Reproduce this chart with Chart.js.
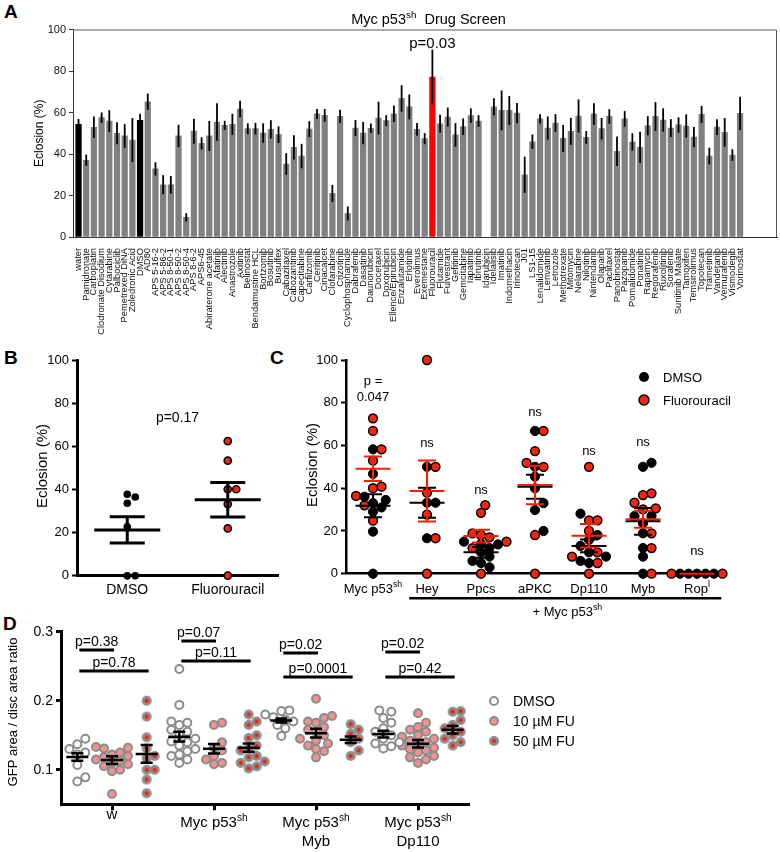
<!DOCTYPE html>
<html><head><meta charset="utf-8">
<script src="https://cdn.jsdelivr.net/npm/chart.js@4.4.1/dist/chart.umd.min.js"></script>
<style>
body{margin:0;background:#fff;width:780px;height:852px;position:relative;overflow:hidden;font-family:"Liberation Sans",Arial,sans-serif}
canvas{position:absolute}
.lt{position:absolute;font-weight:bold;font-size:19px;line-height:1;font-family:"Liberation Sans",Arial,sans-serif;color:#000}
</style></head><body>
<div class="lt" style="left:4px;top:2px">A</div>
<div class="lt" style="left:4px;top:348px">B</div>
<div class="lt" style="left:270px;top:348px">C</div>
<div class="lt" style="left:3px;top:614px">D</div>
<canvas id="cA" width="780" height="355" style="left:0;top:0"></canvas>
<canvas id="cB" width="290" height="255" style="left:0;top:345px"></canvas>
<canvas id="cC" width="490" height="275" style="left:290px;top:345px"></canvas>
<canvas id="cD" width="780" height="237" style="left:0;top:615px"></canvas>
<script>
// ================= DATA =================
// Panel A
const titleA = 'Myc p53{sh}  Drug Screen';
const drugs = ['water','Pamidronate','Carboplatin','Clodronate Disodium','Cytarabine','Palbociclib','Pemetrexed DiNA','Zoledronic Acid','DMSO','AD80','APS 5-16-2','APS 5-86-2','APS 8-50-1','APS 8-50-2','APS 8-50-4','APS 8-6-2','APS6-45','Abiraterone acetate','Afatinib','Alectinib','Anastrozole','Axitinib','Belinostat','Bendamustine HCL','Bortzomib','Bosutinib','Busulfex','Cabazitaxel','Cabozantinib','Capecitabine','Carfilzomib','Ceritinib','Cinacalcet','Clofarabine','Crizotinib','Cyclophosphamide','Dabrafenib','Dasatinib','Daunorubicin','Docetaxel','Doxorubicin','Ellence/Epirubicin','Enzalutamide','Erlotinib','Everolimus','Exemestane','Fluorouracil','Flutamide','Fulvestrant','Gefitinib','Gemcitabine','Iapatinib','Ibrutinib','Idarubicin','Idelalisib','Imatinib','Indomethacin','Irinotecan','J01','LS1-15','Lenalidomide','Lenvatinib','Letrozole','Methotrexate','Mitomycin','Nelarabine','Nilotinib','Nintendanib','Olaparib','Paclitaxel','Panobinostat','Pazopanib','Pomalidomide','Ponatinib','Rapamycin','Regorafenib','Ruxolitinib','Sorafenib','Sunitinib Malate','Tamoxifen','Temsirolimus','Topotecan','Trametinib','Vandetanib','Vemurafenib','Vismodegib','Vorinostat'];
const eclosion = [54.3,37,52.9,57.5,55.9,50,48.7,46.7,56.2,65.2,32.8,25.2,25.2,48.7,9.5,51,45.1,48.7,55.4,53.8,54.3,61.7,52.2,52.2,50.1,51.9,49.3,35.2,43.2,39,52,59.3,58.6,21,58.1,11.3,52.5,50.1,52.4,57.3,56.1,59.4,66.8,62.7,51.9,47.4,77.1,54.6,57.8,49.2,53.2,58.5,55.9,null,62.7,61,61,59.7,30,45.9,56.9,52.5,54.9,47.5,50.9,58.3,48,59.3,52.2,58.1,41.3,56.9,45.8,43.2,53.6,58.1,56.4,52.5,54,53.5,48.2,59.1,39,53,50.4,39.5,59.6];
const semA = [2.6,2.7,5.2,2.5,5.2,5.3,5.7,10.6,3.2,3.9,3.2,4.6,4.2,5.4,2,6,2.9,7.2,9,2.2,5.1,4,2.6,2.8,4.7,4.4,4,5.2,5.8,5.9,3.8,2.4,3.1,4.1,3.2,3.4,3.9,5.4,2.3,7.9,2.6,4,6.4,6,3.1,2.7,13.2,4.3,4.6,5.7,4,3.5,2.8,0,4.2,9.6,7,4.9,8.7,3.5,2.2,5.6,4.3,6.5,6.5,8,3.1,5.2,5.2,3.5,7.1,3.8,4.2,7.5,4.6,6.9,5.6,4.3,3.7,5.6,4.8,4.1,4,3.8,6.9,2.8,8];
const controlsA = ['water','DMSO'];
const highlightA = 'Fluorouracil';
const pA = 'p=0.03';
const yTicksA = [0,20,40,60,80,100];

// Panel B
const bGroups = ['DMSO','Fluorouracil'];
const bDmso = [37.9,36.6,33.7,22.8,0,0];
const bFu = [62.6,53.5,40.2,40.2,33.3,22,0];
const bMean = [21.3,35.3];
const bSem = [6.1,8.0];
const bP = 'p=0.17';
const bPY = 71.5;

// Panel C
const cGroups = ['Myc p53{sh}','Hey','Ppcs','aPKC','Dp110','Myb','Rop{l}'];
const cDmso = [[58.2,46.7,36,34.5,33,31,29,19.7,0],[50,33.2,33.2,16.6],[15,14,13.7,12,10,8,6,5,3],[66.8,50,45.4,40,33,29.8,20],[28.1,18.1,15.8,13,10,8,6,5],[51.9,50,27,27,23.6,18.9,12,8,0],[0,0,0,0,0]];
const cFu = [[72.7,66.8,58.2,52.9,40.7,40,36.4,32,24.8],[100,50,37.9,27.6,16.6,0],[32.1,28.5,18.9,18.1,17,15,12,0],[66.8,57.4,51.9,50,18.1,0],[50,25,25,20,10,8,5,0],[37.6,36.8,33.2,30.6,30.1,18.9,12,0],[0,0,0]];
const cMeanDmso = [31.8,33.2,10,40.7,13,24.5,0];
const cSemDmso = [5.4,7,2.5,5.6,3,6.3,0];
const cMeanFu = [49.1,38.7,17.6,41.5,17.8,25.5,0];
const cSemFu = [5.7,14.3,3,9,5.5,4,0];
const cSig = [['p =','0.047'],['ns'],['ns'],['ns'],['ns'],['ns'],['ns']];
const cSigY = [88.3,59.3,37.3,73.8,55.5,59.8,8.7];
const cBracketLabel = '+ Myc p53{sh}';
const cSeries = ['DMSO','Fluorouracil'];

// Panel D
const dGroups = [['w'],['Myc p53{sh}'],['Myc p53{sh}','Myb'],['Myc p53{sh}','Dp110']];
const dSeries = ['DMSO','10 \u00b5M FU','50 \u00b5M FU'];
const dDmso = [[0.145,0.137,0.13,0.125,0.122,0.107,0.089,0.083],
  [0.246,0.194,0.17,0.168,0.165,0.158,0.155,0.15,0.145,0.141,0.14,0.135,0.13,0.127,0.122,0.12,0.115,0.11],
  [0.186,0.185,0.18,0.176,0.172,0.17,0.165,0.16,0.149],
  [0.186,0.184,0.175,0.168,0.16,0.155,0.15,0.145,0.14,0.138,0.134,0.131]];
const dFu10 = [[0.133,0.132,0.131,0.125,0.122,0.12,0.118,0.115,0.113,0.11,0.108,0.105,0.1,0.098,0.065],
  [0.168,0.165,0.14,0.132,0.128,0.12,0.115,0.11,0.108],
  [0.203,0.178,0.175,0.17,0.168,0.162,0.158,0.155,0.15,0.145,0.142,0.138,0.135,0.13,0.127,0.118],
  [0.182,0.168,0.162,0.158,0.155,0.15,0.148,0.145,0.142,0.14,0.138,0.135,0.132,0.13,0.128,0.125,0.12,0.118,0.115,0.11]];
const dFu50 = [[0.2,0.177,0.147,0.131,0.12,0.117,0.1,0.1,0.086,0.066],
  [0.18,0.165,0.17,0.15,0.146,0.135,0.131,0.128,0.12,0.118,0.112,0.11,0.105,0.102],
  [0.166,0.158,0.152,0.145,0.14,0.128,0.12],
  [0.185,0.184,0.172,0.165,0.16,0.155,0.15,0.145,0.14,0.135]];
const dMean = [[0.1185,0.114,0.123],[0.148,0.1305,0.132],[0.1714,0.153,0.1435],[0.1517,0.1377,0.158]];
const dSem = [[0.0055,0.0055,0.0128],[0.0072,0.007,0.006],[0.003,0.0063,0.0048],[0.0048,0.0053,0.0053]];
const dPGroup = [0,0,1,1,2,2,3,3];
const dPTo = [1,2,1,2,1,2,1,2];
const dPY = [0.2736,0.2432,0.2866,0.2577,0.2692,0.2345,0.2707,0.2345];
const dPText = ['p=0.38','p=0.78','p=0.07','p=0.11','p=0.02','p=0.0001','p=0.02','p=0.42'];
const dYTicks = [0.1,0.2,0.3];

// ================= HELPERS =================
const SANS = '"Liberation Sans", Arial, Helvetica, sans-serif';
const RED = '#f4260f';
Chart.defaults.font.family = SANS;
Chart.defaults.color = '#000';

function segs(str){const out=[];const re=/\{([^}]*)\}/g;let last=0,m;while((m=re.exec(str))){if(m.index>last)out.push({t:str.slice(last,m.index),sup:false});out.push({t:m[1],sup:true});last=re.lastIndex;}if(last<str.length)out.push({t:str.slice(last),sup:false});return out;}
function richWidth(ctx,str,size,fam){let w=0;for(const s of segs(str)){ctx.font=(s.sup?size*0.68:size)+'px '+fam;w+=ctx.measureText(s.t).width;}return w;}
function drawRich(ctx,str,x,y,size,fam,align,color){const w=richWidth(ctx,str,size,fam);let cx=align==='center'?x-w/2:align==='right'?x-w:x;ctx.fillStyle=color||'#000';ctx.textAlign='left';ctx.textBaseline='alphabetic';for(const s of segs(str)){const fs=s.sup?size*0.68:size;ctx.font=fs+'px '+fam;ctx.fillText(s.t,cx,s.sup?y-size*0.42:y);cx+=ctx.measureText(s.t).width;}}
function hasSup(str){return /\{/.test(str);}
function vText(ctx,text,x,y,size,fam){ctx.save();ctx.translate(x,y);ctx.rotate(-Math.PI/2);ctx.font=size+'px '+fam;ctx.fillStyle='#000';ctx.textAlign='center';ctx.textBaseline='middle';ctx.fillText(text,0,0);ctx.restore();}
// beeswarm offsets (in category units) so that dots do not overlap
function swarm(vals,pxPerY,pxPerX,minDist){const idx=vals.map((v,i)=>i).sort((a,b)=>vals[a]-vals[b]);const placed=[];const off=new Array(vals.length).fill(0);for(const i of idx){const y=vals[i]*pxPerY;let best=0;for(let k=0;k<60;k++){const c=k===0?0:(k%2?1:-1)*Math.ceil(k/2)*minDist*0.5;if(placed.every(p=>Math.hypot(p.x-c,p.y-y)>=minDist)){best=c;break;}}placed.push({x:best,y});off[i]=best/pxPerX;}return off;}
function meanSem(ctx,xs,ys,xp,mean,sem,half,cap,color,lw){const ym=ys.getPixelForValue(mean),y1=ys.getPixelForValue(mean+sem),y2=ys.getPixelForValue(mean-sem);ctx.strokeStyle=color;ctx.lineWidth=lw;ctx.lineCap='butt';ctx.beginPath();ctx.moveTo(xp-half,ym);ctx.lineTo(xp+half,ym);if(sem>0){ctx.moveTo(xp,y1);ctx.lineTo(xp,y2);ctx.moveTo(xp-cap,y1);ctx.lineTo(xp+cap,y1);ctx.moveTo(xp-cap,y2);ctx.lineTo(xp+cap,y2);}ctx.stroke();}
function fixSize(px,prop){return s=>{s[prop]=px;};}

// ================= PANEL A =================
(function(){
  const cv=document.getElementById('cA');
  const H=cv.height, LEFT=73, RIGHT=777, TOP=29.5, BOTTOM=237;
  const colors=drugs.map(d=>controlsA.includes(d)?'#000':(d===highlightA?'#ff0000':'#808080'));
  const plug={id:'pa',afterDatasetsDraw(chart){
    const {ctx,chartArea:ca,scales:{x,y}}=chart;ctx.save();
    ctx.strokeStyle='#555';ctx.lineWidth=1;ctx.beginPath();ctx.moveTo(ca.left,ca.top+0.5);ctx.lineTo(ca.right-0.5,ca.top+0.5);ctx.lineTo(ca.right-0.5,ca.bottom);ctx.stroke();
    ctx.strokeStyle='#000';ctx.lineWidth=1.8;
    eclosion.forEach((v,i)=>{if(v==null)return;const px=x.getPixelForValue(i);ctx.beginPath();ctx.moveTo(px,y.getPixelForValue(v+semA[i]));ctx.lineTo(px,y.getPixelForValue(Math.max(0,v-semA[i])));ctx.stroke();});
    const k=drugs.indexOf(highlightA);
    ctx.fillStyle='#000';ctx.font='15px '+SANS;ctx.textAlign='center';ctx.textBaseline='alphabetic';
    ctx.fillText(pA,x.getPixelForValue(k),y.getPixelForValue(eclosion[k]+semA[k])-2);
    drawRich(ctx,titleA,ca.left+(ca.right-ca.left)*0.505,24,14.5,SANS,'center');
    vText(ctx,'Eclosion (%)',40,(ca.top+ca.bottom)/2,12,SANS);
    ctx.restore();}};
  new Chart(cv,{type:'bar',
    data:{datasets:[{data:eclosion.map((v,i)=>({x:i,y:v})),backgroundColor:colors,barThickness:5.6,borderWidth:0}]},
    options:{responsive:false,animation:false,events:[],
      layout:{padding:{left:0,right:780-RIGHT,top:TOP,bottom:0}},
      plugins:{legend:{display:false},tooltip:{enabled:false}},
      scales:{
        x:{type:'linear',offset:false,min:-0.72,max:90.8,grid:{display:false},border:{display:true,color:'#333',width:1},
          afterBuildTicks:s=>{s.ticks=drugs.map((_,i)=>({value:i}));},
          ticks:{autoSkip:false,minRotation:90,maxRotation:90,font:{size:9.3,family:SANS},color:'#111',padding:3,callback:v=>drugs[v]},
          afterFit:fixSize(H-BOTTOM,'height')},
        y:{min:0,max:100,afterBuildTicks:s=>{s.ticks=yTicksA.map(v=>({value:v}));},
          ticks:{font:{size:11,family:SANS},color:'#111',padding:3},
          grid:{drawOnChartArea:false,drawTicks:true,tickLength:4,color:'#333'},border:{color:'#333',width:1},
          afterFit:fixSize(LEFT,'width')}
      }},plugins:[plug]});
})();

// ================= PANEL B =================
(function(){
  const cv=document.getElementById('cB');
  const offD=swarm(bDmso,2.15,100.5,8), offF=swarm(bFu,2.15,100.5,8.5);
  const plug={id:'pb',afterDatasetsDraw(chart){
    const {ctx,chartArea:ca,scales:{x,y}}=chart;ctx.save();
    bMean.forEach((m,i)=>meanSem(ctx,x,y,x.getPixelForValue(i),m,bSem[i],33,17.5,'#000',3));
    ctx.fillStyle='#000';ctx.font='14px '+SANS;ctx.textAlign='center';ctx.textBaseline='alphabetic';
    ctx.fillText(bP,x.getPixelForValue(0.5),y.getPixelForValue(bPY));
    vText(ctx,'Eclosion (%)',43,121,15,SANS);
    ctx.restore();}};
  new Chart(cv,{type:'scatter',
    data:{datasets:[
      {data:bDmso.map((v,i)=>({x:0+offD[i],y:v})),backgroundColor:'#000',borderColor:'#000',pointRadius:3.8,borderWidth:0},
      {data:bFu.map((v,i)=>({x:1+offF[i],y:v})),backgroundColor:RED,borderColor:'#000',pointRadius:3.6,borderWidth:1.5}]},
    options:{responsive:false,animation:false,events:[],clip:false,
      layout:{padding:{left:0,right:12,top:15.7,bottom:0}},
      plugins:{legend:{display:false},tooltip:{enabled:false}},
      scales:{
        x:{type:'linear',min:-0.5,max:1.5,afterBuildTicks:s=>{s.ticks=[{value:0},{value:1}];},
          ticks:{font:{size:14},color:'#000',padding:2,callback:v=>bGroups[v]},
          grid:{drawOnChartArea:false,drawTicks:true,tickLength:4,tickWidth:2,color:'#000'},border:{color:'#000',width:3},
          afterFit:fixSize(255-230.7,'height')},
        y:{min:0,max:100,afterBuildTicks:s=>{s.ticks=[0,20,40,60,80,100].map(v=>({value:v}));},
          ticks:{font:{size:13},color:'#000',padding:3},
          grid:{drawOnChartArea:false,drawTicks:true,tickLength:5,tickWidth:2,color:'#000'},border:{color:'#000',width:3},
          afterFit:fixSize(77,'width')}
      }},plugins:[plug]});
})();

// ================= PANEL C =================
(function(){
  const cv=document.getElementById('cC');
  const offD=[],offF=[];
  cGroups.forEach((g,i)=>{const all=cDmso[i].concat(cFu[i]);const o=swarm(all,2.137,54,8.5);offD.push(o.slice(0,cDmso[i].length));offF.push(o.slice(cDmso[i].length));});
  const ptsD=[],ptsF=[];
  cGroups.forEach((g,i)=>{cDmso[i].forEach((v,j)=>ptsD.push({x:i+offD[i][j],y:v}));cFu[i].forEach((v,j)=>ptsF.push({x:i+offF[i][j],y:v}));});
  const plug={id:'pc',afterDatasetsDraw(chart){
    const {ctx,chartArea:ca,scales:{x,y}}=chart;ctx.save();
    cGroups.forEach((g,i)=>{const xp=x.getPixelForValue(i);
      meanSem(ctx,x,y,xp,cMeanDmso[i],cSemDmso[i],17.5,9,'#000',2);
      meanSem(ctx,x,y,xp,cMeanFu[i],cSemFu[i],17.5,9,'#ff1a00',2);});
    cGroups.forEach((g,i)=>drawRich(ctx,g,x.getPixelForValue(i),ca.bottom+19,13,SANS,'center'));
    ctx.strokeStyle='#000';ctx.lineWidth=2.5;ctx.beginPath();ctx.moveTo(x.getPixelForValue(0.67),ca.bottom+24.5);ctx.lineTo(x.getPixelForValue(6.45),ca.bottom+24.5);ctx.stroke();
    drawRich(ctx,cBracketLabel,x.getPixelForValue(3.6),ca.bottom+42,13,SANS,'center');
    ctx.fillStyle='#000';ctx.font='13px '+SANS;ctx.textAlign='center';ctx.textBaseline='alphabetic';
    cSig.forEach((lines,i)=>{lines.forEach((t,j)=>ctx.fillText(t,x.getPixelForValue(i),y.getPixelForValue(cSigY[i])+j*15.5));});
    const lx=ca.left+298, ly=[ca.top+17,ca.top+40];
    [['#000',0],[RED,1.5]].forEach((st,k)=>{ctx.beginPath();ctx.arc(lx,ly[k],5,0,2*Math.PI);ctx.fillStyle=st[0];ctx.fill();if(st[1]){ctx.lineWidth=1.5;ctx.strokeStyle='#000';ctx.stroke();}
      ctx.fillStyle='#000';ctx.font='13px '+SANS;ctx.textAlign='left';ctx.textBaseline='middle';ctx.fillText(cSeries[k],lx+19,ly[k]+1);});
    vText(ctx,'Eclosion (%)',23,120,15,SANS);
    ctx.restore();}};
  new Chart(cv,{type:'scatter',
    data:{datasets:[
      {data:ptsD,backgroundColor:'#000',borderColor:'#000',pointRadius:4.6,borderWidth:1},
      {data:ptsF,backgroundColor:RED,borderColor:'#000',pointRadius:4.4,borderWidth:1.5}]},
    options:{responsive:false,animation:false,events:[],clip:false,
      layout:{padding:{left:0,right:56,top:15,bottom:0}},
      plugins:{legend:{display:false},tooltip:{enabled:false}},
      scales:{
        x:{type:'linear',min:-0.5,max:6.5,afterBuildTicks:s=>{s.ticks=cGroups.map((_,i)=>({value:i}));},
          ticks:{callback:()=>'' ,padding:0},
          grid:{drawOnChartArea:false,drawTicks:true,tickLength:5,tickWidth:2,color:'#000'},border:{color:'#000',width:2.5},
          afterFit:fixSize(275-228.7,'height')},
        y:{min:0,max:100,afterBuildTicks:s=>{s.ticks=[0,20,40,60,80,100].map(v=>({value:v}));},
          ticks:{font:{size:13},color:'#000',padding:3},
          grid:{drawOnChartArea:false,drawTicks:true,tickLength:5,tickWidth:2,color:'#000'},border:{color:'#000',width:2.5},
          afterFit:fixSize(56,'width')}
      }},plugins:[plug]});
})();

// ================= PANEL D =================
(function(){
  const cv=document.getElementById('cD');
  const SUB=[-0.34,0,0.34];
  const dot50=(()=>{const c=document.createElement('canvas');c.width=c.height=12;const g=c.getContext('2d');g.fillStyle='#8c8c8c';g.beginPath();g.arc(6,6,5,0,2*Math.PI);g.fill();g.fillStyle='#ff1a00';g.beginPath();g.arc(6,6,2,0,2*Math.PI);g.fill();return c;})();
  const mk=(arr,s)=>{const pts=[];arr.forEach((vals,g)=>{const o=swarm(vals,692,102,8);vals.forEach((v,j)=>pts.push({x:g+SUB[s]+o[j],y:v}));});return pts;};
  const styles=[{backgroundColor:'#fff',borderColor:'#8c8c8c',borderWidth:2,pointRadius:4},
                {backgroundColor:'#f49090',borderColor:'#8c8c8c',borderWidth:2,pointRadius:4},
                {pointStyle:dot50,pointRadius:5}];
  const plug={id:'pd',afterDatasetsDraw(chart){
    const {ctx,chartArea:ca,scales:{x,y}}=chart;ctx.save();
    dMean.forEach((row,g)=>row.forEach((m,s)=>meanSem(ctx,x,y,x.getPixelForValue(g+SUB[s]),m,dSem[g][s],11,6,'#000',2.5)));
    dPText.forEach((t,k)=>{const g=dPGroup[k];const x1=x.getPixelForValue(g+SUB[0])+2,x2=x.getPixelForValue(g+SUB[dPTo[k]])+2;const yy=y.getPixelForValue(dPY[k]);
      ctx.strokeStyle='#000';ctx.lineWidth=3;ctx.beginPath();ctx.moveTo(x1,yy);ctx.lineTo(x2,yy);ctx.stroke();
      ctx.fillStyle='#000';ctx.font='14px '+SANS;ctx.textAlign='center';ctx.textBaseline='alphabetic';ctx.fillText(t,(x1+x2)/2,yy-4);});
    dGroups.forEach((lines,g)=>{let by=ca.bottom+15;lines.forEach((t,j)=>{if(j===0&&hasSup(t))by+=8;drawRich(ctx,t,x.getPixelForValue(g),by,15,SANS,'center');by+=18.5;});});
    const lx=ca.right+25;[86,106,126].forEach((ly,k)=>{ctx.save();
      if(k===2){ctx.drawImage(dot50,lx-6,ly-6);}else{ctx.beginPath();ctx.arc(lx,ly,4,0,2*Math.PI);ctx.fillStyle=styles[k].backgroundColor;ctx.fill();ctx.lineWidth=2;ctx.strokeStyle='#8c8c8c';ctx.stroke();}
      ctx.restore();ctx.fillStyle='#000';ctx.font='14px '+SANS;ctx.textAlign='left';ctx.textBaseline='middle';ctx.fillText(dSeries[k],lx+19,ly+1);});
    vText(ctx,'GFP area / disc area ratio',13,97,13,SANS);
    ctx.restore();}};
  new Chart(cv,{type:'scatter',
    data:{datasets:[Object.assign({data:mk(dDmso,0)},styles[0]),Object.assign({data:mk(dFu10,1)},styles[1]),Object.assign({data:mk(dFu50,2)},styles[2])]},
    options:{responsive:false,animation:false,events:[],clip:false,
      layout:{padding:{left:0,right:780-469,top:16.7,bottom:0}},
      plugins:{legend:{display:false},tooltip:{enabled:false}},
      scales:{
        x:{type:'linear',min:-0.5,max:3.5,afterBuildTicks:s=>{s.ticks=dGroups.map((_,i)=>({value:i}));},
          ticks:{callback:()=>'',padding:0},
          grid:{drawOnChartArea:false,drawTicks:true,tickLength:6,tickWidth:3,color:'#000'},border:{color:'#000',width:3},
          afterFit:fixSize(237-189.3,'height')},
        y:{min:0.05,max:0.3,afterBuildTicks:s=>{s.ticks=dYTicks.map(v=>({value:v}));},
          ticks:{font:{size:14},color:'#000',padding:3,callback:v=>v.toFixed(1)},
          grid:{drawOnChartArea:false,drawTicks:true,tickLength:5,tickWidth:3,color:'#000'},border:{color:'#000',width:3},
          afterFit:fixSize(61,'width')}
      }},plugins:[plug]});
})();
</script>
</body></html>
